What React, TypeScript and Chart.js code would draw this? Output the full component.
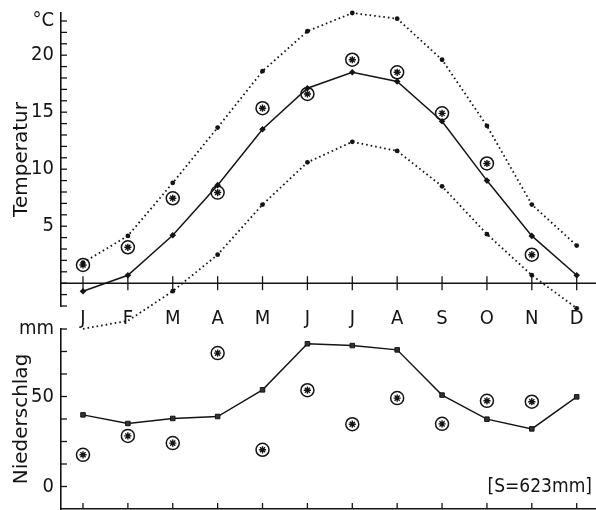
import React, { useEffect, useRef } from 'react';
import { Chart, registerables } from 'chart.js';

Chart.register(...registerables);

const MONTHS = ['J', 'F', 'M', 'A', 'M', 'J', 'J', 'A', 'S', 'O', 'N', 'D'];
const MONTH_POS = [0, 1, 2, 3, 4, 5, 6, 7, 8, 9, 10, 11];

// Temperatur (°C)
const TEMP_MAX = [1.8, 4.15, 8.8, 13.65, 18.6, 22.1, 23.7, 23.2, 19.6, 13.8, 6.9, 3.3];
const TEMP_MEAN = [-0.7, 0.7, 4.2, 8.6, 13.5, 17.1, 18.5, 17.7, 14.2, 9.0, 4.15, 0.7];
const TEMP_MIN = [-4.0, -3.3, -0.7, 2.5, 6.9, 10.6, 12.4, 11.6, 8.5, 4.3, 0.7, -2.2];
const TEMP_REF = [1.6, 3.15, 7.45, 7.95, 15.35, 16.6, 19.6, 18.5, 14.9, 10.5, 2.5, null];

// Niederschlag (mm)
const PREC = [39.8, 35.0, 37.8, 38.9, 53.7, 79.3, 78.3, 75.9, 50.8, 37.4, 32.0, 49.8];
const PREC_REF = [17.6, 28.1, 24.1, 74.1, 20.4, 53.5, 34.6, 49.1, 34.8, 47.6, 47.1, null];

const TEMP_TICK_LABELS: Record<string, string> = { '5': '5', '10': '10', '15': '15', '20': '20', '23': '°C' };
const TEMP_MINOR_TICKS = [-2, -1, 0, 1, 2, 3, 4, 5, 6, 7, 8, 9, 10, 11, 12, 13, 14, 15, 16, 17, 18, 19, 20, 21, 22, 23];
const PREC_TICK_LABELS: Record<string, string> = { '0': '0', '50': '50', '87.5': 'mm' };
const PREC_MINOR_TICKS = [0, 12.5, 25, 37.5, 50, 62.5, 75, 87.5];
const SUM_TEXT = '[S=623mm]';

const INK = '#141414';
const FONT = "'DejaVu Sans Condensed', 'DejaVu Sans', sans-serif";

const xy = (arr: (number | null)[]) => arr.map((v, i) => ({ x: i, y: v }));

const marksPlugin = {
  id: 'marks',
  beforeDatasetsDraw(chart: any, _args: any, opts: any) {
    const ctx = chart.ctx;
    const xs = chart.scales.x;
    const ys = chart.scales.y;
    const area = chart.chartArea;
    ctx.save();
    ctx.strokeStyle = INK;
    ctx.lineCap = 'butt';
    const line = (x1: number, y1: number, x2: number, y2: number) => {
      ctx.beginPath();
      ctx.moveTo(x1, y1);
      ctx.lineTo(x2, y2);
      ctx.stroke();
    };
    if (opts.zeroLine) {
      ctx.lineWidth = 1.6;
      const py = ys.getPixelForValue(0);
      line(area.left, py, area.right, py);
    }
    ctx.lineWidth = 1.3;
    for (const v of opts.yTicks || []) {
      const py = ys.getPixelForValue(v);
      line(area.left, py, area.left + 6, py);
    }
    const base = opts.xBase === 'zero' ? ys.getPixelForValue(0) : area.bottom;
    for (const v of opts.xTicks || []) {
      const px = xs.getPixelForValue(v);
      line(px, base + opts.xDown, px, base - opts.xUp);
    }
    if (opts.text) {
      ctx.fillStyle = INK;
      ctx.font = `19px ${FONT}`;
      ctx.textAlign = 'right';
      ctx.textBaseline = 'middle';
      ctx.fillText(opts.text, xs.getPixelForValue(opts.textX), ys.getPixelForValue(opts.textY) + 1);
    }
    ctx.restore();
  },
};

const commonX = (showLabels: boolean, height: number) => ({
  type: 'linear' as const,
  min: -0.49,
  max: 11.43,
  position: 'bottom' as const,
  grid: { display: false, drawTicks: false },
  border: { display: !showLabels, color: INK, width: 1.5 },
  ticks: {
    display: showLabels,
    stepSize: 1,
    includeBounds: false,
    autoSkip: false,
    maxRotation: 0,
    padding: 1,
    color: INK,
    font: { size: 20, family: FONT },
    callback: (v: any) => (Number.isInteger(v) && MONTHS[v] ? MONTHS[v] : ''),
  },
  afterFit: (s: any) => {
    s.height = height;
    s.paddingLeft = 0;
    s.paddingRight = 0;
  },
});

const yFit = (s: any) => {
  s.width = 61;
  s.paddingTop = 0;
  s.paddingBottom = 0;
};

export default function App() {
  const topRef = useRef<HTMLCanvasElement>(null);
  const botRef = useRef<HTMLCanvasElement>(null);

  useEffect(() => {
    const top = new Chart(topRef.current as HTMLCanvasElement, {
      type: 'line',
      data: {
        datasets: [
          {
            data: xy(TEMP_MAX),
            borderColor: INK,
            borderWidth: 1.8,
            borderDash: [1.6, 3],
            pointStyle: 'circle',
            pointRadius: 2.4,
            pointBackgroundColor: INK,
            pointBorderWidth: 0,
            clip: false,
          },
          {
            data: xy(TEMP_MIN),
            borderColor: INK,
            borderWidth: 1.8,
            borderDash: [1.6, 3],
            pointStyle: 'circle',
            pointRadius: 2.4,
            pointBackgroundColor: INK,
            pointBorderWidth: 0,
            clip: false,
          },
          {
            data: xy(TEMP_MEAN),
            borderColor: INK,
            borderWidth: 1.5,
            pointStyle: 'rectRot',
            pointRadius: 3.3,
            pointBackgroundColor: INK,
            pointBorderWidth: 0,
            clip: false,
          },
          {
            data: xy(TEMP_REF),
            showLine: false,
            pointStyle: 'circle',
            pointRadius: 6.5,
            pointBorderWidth: 1.5,
            pointBorderColor: INK,
            pointBackgroundColor: 'rgba(255,255,255,0)',
            clip: false,
          },
          {
            data: xy(TEMP_REF),
            showLine: false,
            pointStyle: 'star',
            pointRadius: 3.6,
            pointBorderWidth: 1.4,
            pointBorderColor: INK,
            clip: false,
          },
        ],
      },
      options: {
        responsive: false,
        animation: false,
        devicePixelRatio: 1,
        layout: { autoPadding: false, padding: { top: 13, left: 0, right: 0, bottom: 0 } },
        plugins: {
          legend: { display: false },
          tooltip: { enabled: false },
          marks: {
            zeroLine: true,
            yTicks: TEMP_MINOR_TICKS,
            xTicks: MONTH_POS,
            xBase: 'zero',
            xUp: 7,
            xDown: 7,
          },
        } as any,
        scales: {
          x: commonX(true, 34) as any,
          y: {
            min: -2,
            max: 23.7,
            grid: { display: false, drawTicks: false },
            border: { display: true, color: INK, width: 1.6 },
            ticks: {
              stepSize: 1,
              includeBounds: false,
              autoSkip: false,
              padding: 7,
              color: INK,
              font: { size: 20, family: FONT },
              callback: (v: any) => TEMP_TICK_LABELS[String(v)] ?? '',
            },
            title: {
              display: true,
              text: 'Temperatur',
              color: INK,
              font: { size: 20, family: "'DejaVu Sans', sans-serif" },
              padding: { top: 10, bottom: 0 },
            },
            afterFit: yFit,
          },
        },
      },
      plugins: [marksPlugin],
    });

    const bot = new Chart(botRef.current as HTMLCanvasElement, {
      type: 'line',
      data: {
        datasets: [
          {
            data: xy(PREC),
            borderColor: INK,
            borderWidth: 1.4,
            pointStyle: 'rect',
            pointRadius: 3.2,
            pointBackgroundColor: '#333',
            pointBorderColor: INK,
            pointBorderWidth: 1,
          },
          {
            data: xy(PREC_REF),
            showLine: false,
            pointStyle: 'circle',
            pointRadius: 6.5,
            pointBorderWidth: 1.5,
            pointBorderColor: INK,
            pointBackgroundColor: 'rgba(255,255,255,0)',
          },
          {
            data: xy(PREC_REF),
            showLine: false,
            pointStyle: 'star',
            pointRadius: 3.6,
            pointBorderWidth: 1.4,
            pointBorderColor: INK,
          },
        ],
      },
      options: {
        responsive: false,
        animation: false,
        devicePixelRatio: 1,
        layout: { autoPadding: false, padding: { top: 19, left: 0, right: 0, bottom: 1 } },
        plugins: {
          legend: { display: false },
          tooltip: { enabled: false },
          marks: {
            zeroLine: false,
            yTicks: PREC_MINOR_TICKS,
            xTicks: MONTH_POS,
            xBase: 'bottom',
            xUp: 6,
            xDown: 0,
            text: SUM_TEXT,
            textX: 11.34,
            textY: 0,
          },
        } as any,
        scales: {
          x: commonX(false, 0) as any,
          y: {
            min: -12.5,
            max: 87.5,
            grid: { display: false, drawTicks: false },
            border: { display: true, color: INK, width: 1.6 },
            ticks: {
              stepSize: 12.5,
              includeBounds: false,
              autoSkip: false,
              padding: 7,
              color: INK,
              font: { size: 20, family: FONT },
              callback: (v: any) => PREC_TICK_LABELS[String(v)] ?? '',
            },
            title: {
              display: true,
              text: 'Niederschlag',
              color: INK,
              font: { size: 20, family: "'DejaVu Sans', sans-serif" },
              padding: { top: 10, bottom: 0 },
            },
            afterFit: yFit,
          },
        },
      },
      plugins: [marksPlugin],
    });

    return () => {
      top.destroy();
      bot.destroy();
    };
  }, []);

  return (
    <div style={{ position: 'fixed', left: 0, top: 0, width: 596, height: 510, background: '#fff', overflow: 'hidden' }}>
      <canvas
        ref={botRef}
        width={596}
        height={200}
        style={{ position: 'absolute', left: 0, top: 310, width: 596, height: 200, zIndex: 1 }}
      />
      <canvas
        ref={topRef}
        width={596}
        height={340}
        style={{ position: 'absolute', left: 0, top: 0, width: 596, height: 340, zIndex: 2 }}
      />
    </div>
  );
}
